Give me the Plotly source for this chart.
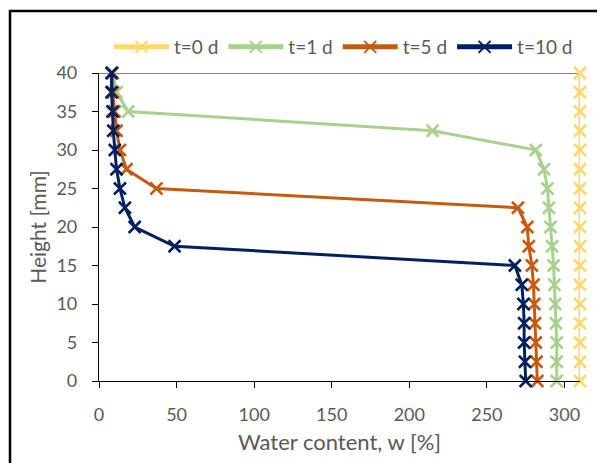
import plotly.graph_objects as go

heights = [40, 37.5, 35, 32.5, 30, 27.5, 25, 22.5, 20, 17.5, 15, 12.5, 10, 7.5, 5, 2.5, 0]
w_t0 = [310] * 17
w_t1 = [9, 11.3, 18.8, 215, 281.5, 286.8, 289, 290, 291, 292, 293, 293.5, 294, 294.5, 295, 295, 295]
w_t5 = [8.5, 9, 10, 11.3, 13.5, 17.7, 37, 270, 276, 277, 279, 280, 280.5, 281, 281.5, 282, 282.5]
w_t10 = [8.1, 8.1, 8.7, 9.2, 10.2, 11.3, 13.5, 16.7, 23, 48.7, 268, 272.5, 273.5, 274, 274, 274.5, 275]

series = [("t=0 d", w_t0, "#FFD966"), ("t=1 d", w_t1, "#A9D18E"),
          ("t=5 d", w_t5, "#C55A11"), ("t=10 d", w_t10, "#002060")]

x_ticks = [0, 50, 100, 150, 200, 250, 300]
y_ticks = [0, 5, 10, 15, 20, 25, 30, 35, 40]

fig = go.Figure()
for name, w, c in series:
    fig.add_trace(go.Scatter(x=w, y=heights, name=name, mode="lines+markers",
                             line=dict(color=c, width=3),
                             marker=dict(symbol="x-thin", size=12, line=dict(color=c, width=2.5)),
                             cliponaxis=False))

txt = "#595959"
font = "Lato, 'Liberation Sans', sans-serif"
# page has an 8px body margin; figure coordinates are page minus 8
OFF = 8
W, H = 605 - OFF, 463 - OFF
L, R, T, B = 99 - OFF, 580 - OFF, 73 - OFF, 381 - OFF
pw, ph = R - L, B - T

fig.update_layout(
    width=W, height=H, margin=dict(l=L, r=W - R, t=T, b=H - B, autoexpand=False),
    plot_bgcolor="white", paper_bgcolor="white",
    font=dict(family=font, color=txt, size=18),
    showlegend=True,
    legend=dict(orientation="h", x=(109 - 99) / pw, xanchor="left", y=1 + (73 - 47) / ph, yanchor="middle",
                itemwidth=55, font=dict(size=19, color=txt), bgcolor="rgba(0,0,0,0)",
                tracegroupgap=0, itemsizing="constant"),
    xaxis=dict(range=[0, 310], tickvals=x_ticks, showgrid=False, zeroline=False,
               showline=True, linecolor="black", linewidth=1.2, ticks="outside", ticklen=6,
               tickcolor="black", tickfont=dict(size=18, color=txt), ticklabelstandoff=11,
               title=dict(text="Water content, w [%]", font=dict(size=22, color=txt), standoff=10)),
    yaxis=dict(range=[0, 40], tickvals=y_ticks, showgrid=False, zeroline=False,
               showline=True, linecolor="black", linewidth=1.2, ticks="outside", ticklen=6,
               tickcolor="black", tickfont=dict(size=18, color=txt), ticklabelstandoff=11,
               title=dict(text="Height [mm]", font=dict(size=21, color=txt), standoff=4)),
    shapes=[
        dict(type="line", xref="paper", yref="y", x0=0, x1=1, y0=40, y1=40,
             line=dict(color="#595959", width=1.5), layer="below"),
        dict(type="rect", xref="paper", yref="paper",
             x0=(10 - 99) / pw, x1=1.3, y0=-0.6, y1=1 + (73 - 11) / ph,
             line=dict(color="black", width=2.5)),
    ],
)

fig.write_html("out.html")
